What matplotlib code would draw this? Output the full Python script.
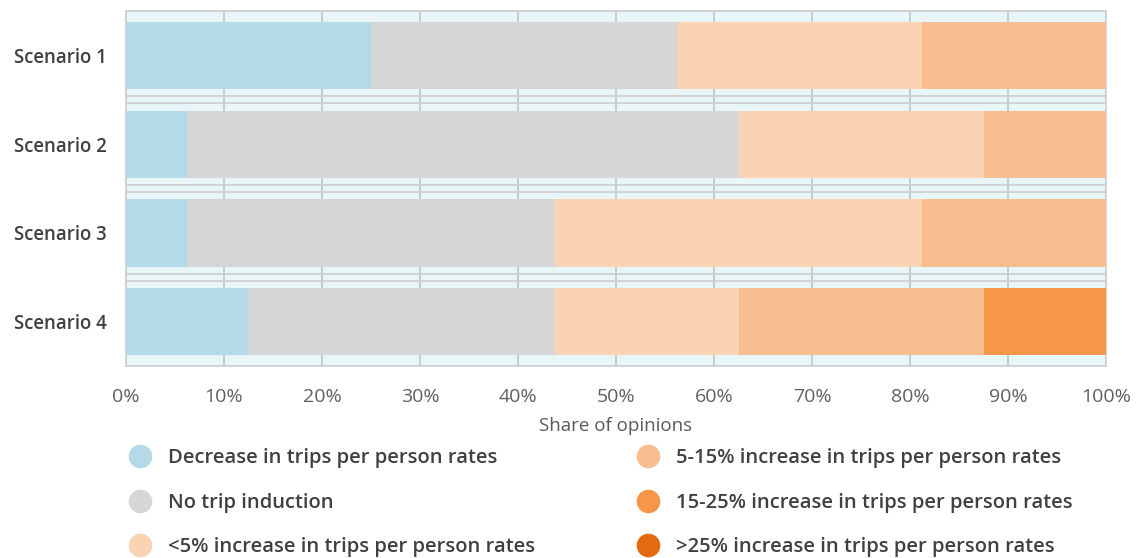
import matplotlib.pyplot as plt
from matplotlib.lines import Line2D
import numpy as np

plt.rcParams['font.family'] = ['Open Sans', 'DejaVu Sans']

scenarios = ['Scenario 1', 'Scenario 2', 'Scenario 3', 'Scenario 4']
categories = [
    'Decrease in trips per person rates',
    'No trip induction',
    '<5% increase in trips per person rates',
    '5-15% increase in trips per person rates',
    '15-25% increase in trips per person rates',
    '>25% increase in trips per person rates',
]
# share of opinions (%) per scenario, one list per category
decrease = [25.0, 6.25, 6.25, 12.5]
no_induction = [31.25, 56.25, 37.5, 31.25]
under_5 = [25.0, 25.0, 37.5, 18.75]
from_5_to_15 = [18.75, 12.5, 18.75, 25.0]
from_15_to_25 = [0, 0, 0, 12.5]
over_25 = [0, 0, 0, 0]

colors = ['#b4dae7', '#d6d6d6', '#fad3b4', '#f8be90', '#f59649', '#e26b10']

series = [decrease, no_induction, under_5, from_5_to_15, from_15_to_25, over_25]

fig = plt.figure(figsize=(11.39, 5.58), dpi=100)
ax = fig.add_axes([0.1106, 0.344, 0.8605, 0.636])
ax.set_facecolor('#e8f6f8')

y = np.arange(len(scenarios))
left = np.zeros(len(scenarios))
for vals, c in zip(series, colors):
    vals = np.array(vals, dtype=float)
    ax.barh(y, vals, left=left, height=0.76, color=c, zorder=3)
    left += vals

ax.set_xlim(0, 100)
ax.set_ylim(3.5, -0.5)
ax.set_xticks(np.arange(0, 101, 10))
ax.set_xticklabels([f'{v}%' for v in range(0, 101, 10)])
ax.set_yticks(y)
ax.set_yticklabels(scenarios, fontweight='semibold', color='#404040', fontsize=13.4)
ax.tick_params(axis='x', length=0, pad=16, labelsize=14, labelcolor='#606060')
ax.tick_params(axis='y', length=0, pad=14)

for xv in range(10, 100, 10):
    ax.axvline(xv, color='#c4c4c4', lw=1.2, zorder=1)
for yv in [0.5, 1.5, 2.5]:
    ax.axhline(yv - 0.04, color='#cccccc', lw=1.2, zorder=1)
    ax.axhline(yv + 0.04, color='#cccccc', lw=1.2, zorder=1)
for s in ax.spines.values():
    s.set_color('#cccccc')
    s.set_linewidth(1.2)

ax.set_xlabel('Share of opinions', fontsize=13.5, color='#595959', labelpad=8)

handles = [Line2D([], [], marker='o', ls='none', markersize=17,
                  markerfacecolor=c, markeredgecolor='none') for c in colors]
leg = fig.legend(handles, categories, ncol=2, loc='upper left',
                 bbox_to_anchor=(130 / 1139, 0.197), frameon=False,
                 borderpad=0, borderaxespad=0,
                 prop={'size': 14.5, 'weight': 'semibold'},
                 labelspacing=1.22, columnspacing=5.1, handletextpad=0.9,
                 handlelength=1.0)
for t in leg.get_texts():
    t.set_color('#404040')

fig.savefig('out.png', dpi=100)
